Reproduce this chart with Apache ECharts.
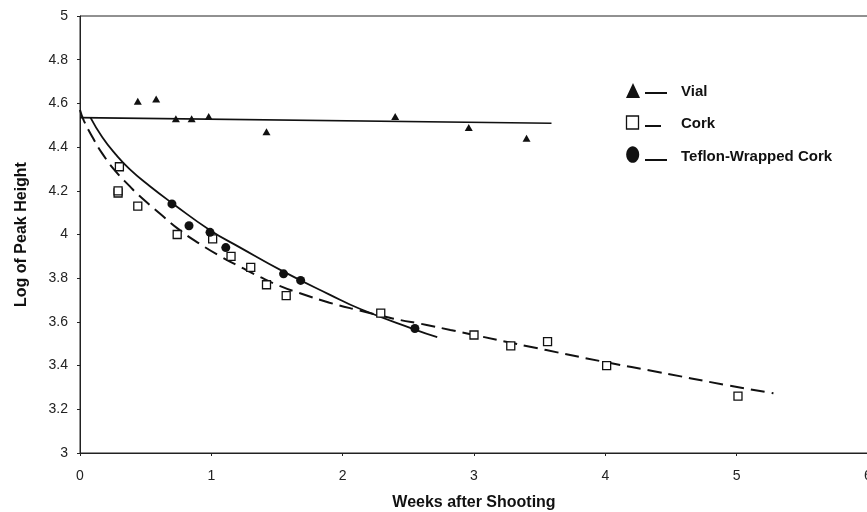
<!DOCTYPE html>
<html>
<head>
<meta charset="utf-8">
<script src="https://cdn.jsdelivr.net/npm/echarts@6/dist/echarts.min.js"></script>
<style>
  html, body { margin: 0; padding: 0; background: #fff; }
  #main { width: 867px; height: 512px; }
</style>
</head>
<body>
<div id="main"></div>
<script>
// measured points
var vialX = [0.44, 0.58, 0.73, 0.85, 0.98, 1.42, 2.40, 2.96, 3.40];
var vialY = [4.61, 4.62, 4.53, 4.53, 4.54, 4.47, 4.54, 4.49, 4.44];

var corkX = [0.29, 0.29, 0.30, 0.44, 0.74, 1.01, 1.15, 1.30, 1.42, 1.57, 2.29, 3.00, 3.28, 3.56, 4.01, 5.01];
var corkY = [4.19, 4.20, 4.31, 4.13, 4.00, 3.98, 3.90, 3.85, 3.77, 3.72, 3.64, 3.54, 3.49, 3.51, 3.40, 3.26];

var teflonX = [0.70, 0.83, 0.99, 1.11, 1.55, 1.68, 2.55];
var teflonY = [4.14, 4.04, 4.01, 3.94, 3.82, 3.79, 3.57];

// trend lines
var vialFitX = [0, 3.59];
var vialFitY = [4.535, 4.509];

var corkFitX = [0, 0.03, 0.10, 0.17, 0.27, 0.38, 0.45, 0.61, 0.76, 0.91, 1.07, 1.22, 1.37, 1.52, 1.67, 1.90, 2.13, 2.38, 2.64, 2.82, 3.55, 4.01, 4.39, 4.92, 5.28];
var corkFitY = [4.57, 4.52, 4.44, 4.37, 4.29, 4.22, 4.178, 4.095, 4.02, 3.958, 3.90, 3.852, 3.806, 3.765, 3.732, 3.688, 3.652, 3.616, 3.586, 3.563, 3.471, 3.415, 3.372, 3.311, 3.273];

var teflonFitX = [0.08, 0.17, 0.27, 0.38, 0.53, 0.71, 0.99, 1.22, 1.55, 1.90, 2.13, 2.55, 2.72];
var teflonFitY = [4.535, 4.445, 4.368, 4.298, 4.222, 4.140, 4.020, 3.940, 3.830, 3.725, 3.660, 3.565, 3.530];

var legendNames = ['Vial', 'Cork', 'Teflon-Wrapped Cork'];

function pairs(xs, ys) {
    var out = [];
    for (var i = 0; i < xs.length; i++) out.push([xs[i], ys[i]]);
    return out;
}

var ink = '#111';
var tickFont = { color: '#222', fontSize: 14, fontFamily: 'Liberation Sans, Arial, sans-serif' };

var myChart = echarts.init(document.getElementById('main'), null, { renderer: 'canvas' });

var option = {
    backgroundColor: '#fff',
    animation: false,
    grid: {
        left: 80, top: 16, right: -1, bottom: 59,
        containLabel: false, outerBoundsMode: 'none',
        show: true, borderColor: '#222', borderWidth: 1
    },
    xAxis: {
        type: 'value', min: 0, max: 6, interval: 1,
        name: 'Weeks after Shooting', nameLocation: 'middle', nameGap: 42,
        nameTextStyle: { color: ink, fontSize: 16, fontWeight: 'bold', fontFamily: 'Liberation Sans, Arial, sans-serif' },
        axisLine: { lineStyle: { color: '#222', width: 1 } },
        axisTick: { show: true, inside: false, length: 3, lineStyle: { color: '#222' } },
        axisLabel: Object.assign({ margin: 16 }, tickFont),
        splitLine: { show: false }
    },
    yAxis: {
        type: 'value', min: 3, max: 5, interval: 0.2,
        name: 'Log of Peak Height', nameLocation: 'middle', nameGap: 50, nameRotate: 90,
        nameTextStyle: { color: ink, fontSize: 16, fontWeight: 'bold', fontFamily: 'Liberation Sans, Arial, sans-serif' },
        axisLine: { show: true, lineStyle: { color: '#222', width: 1 } },
        axisTick: { show: true, inside: false, length: 3, lineStyle: { color: '#222' } },
        axisLabel: Object.assign({ margin: 12 }, tickFont),
        splitLine: { show: false }
    },
    series: [
        {
            name: 'Vial fit', type: 'line', data: pairs(vialFitX, vialFitY),
            symbol: 'none', lineStyle: { color: ink, width: 1.6 }, z: 2
        },
        {
            name: 'Cork fit', type: 'line', data: pairs(corkFitX, corkFitY),
            symbol: 'none', smooth: 0.5,
            lineStyle: { color: ink, width: 2, type: [14, 7] }, z: 2
        },
        {
            name: 'Teflon fit', type: 'line', data: pairs(teflonFitX, teflonFitY),
            symbol: 'none', smooth: 0.5,
            lineStyle: { color: ink, width: 1.8 }, z: 2
        },
        {
            name: legendNames[0], type: 'scatter', data: pairs(vialX, vialY),
            symbol: 'triangle', symbolSize: [8, 7],
            itemStyle: { color: ink, opacity: 1 }, z: 3
        },
        {
            name: legendNames[1], type: 'scatter', data: pairs(corkX, corkY),
            symbol: 'rect', symbolSize: 8,
            itemStyle: { color: '#fff', borderColor: ink, borderWidth: 1.3, opacity: 1 }, z: 3
        },
        {
            name: legendNames[2], type: 'scatter', data: pairs(teflonX, teflonY),
            symbol: 'circle', symbolSize: 9,
            itemStyle: { color: ink, opacity: 1 }, z: 4
        }
    ],
    graphic: [
        { type: 'polygon', shape: { points: [[633, 83], [626, 98], [640, 98]] }, style: { fill: ink } },
        { type: 'line', shape: { x1: 645, y1: 93, x2: 667, y2: 93 }, style: { stroke: ink, lineWidth: 2 } },
        { type: 'text', left: 681, top: 84, style: { text: legendNames[0], fill: ink, font: 'bold 15px Liberation Sans, Arial, sans-serif' } },

        { type: 'rect', shape: { x: 626.5, y: 116, width: 12, height: 13 }, style: { fill: '#fff', stroke: ink, lineWidth: 1.3 } },
        { type: 'line', shape: { x1: 645, y1: 126, x2: 661, y2: 126 }, style: { stroke: ink, lineWidth: 2 } },
        { type: 'text', left: 681, top: 116, style: { text: legendNames[1], fill: ink, font: 'bold 15px Liberation Sans, Arial, sans-serif' } },

        { type: 'ellipse', shape: { cx: 632.7, cy: 154.5, rx: 6.5, ry: 8.3 }, style: { fill: ink } },
        { type: 'line', shape: { x1: 645, y1: 160, x2: 667, y2: 160 }, style: { stroke: ink, lineWidth: 2 } },
        { type: 'text', left: 681, top: 149, style: { text: legendNames[2], fill: ink, font: 'bold 15px Liberation Sans, Arial, sans-serif' } }
    ]
};

myChart.setOption(option);
</script>
</body>
</html>
